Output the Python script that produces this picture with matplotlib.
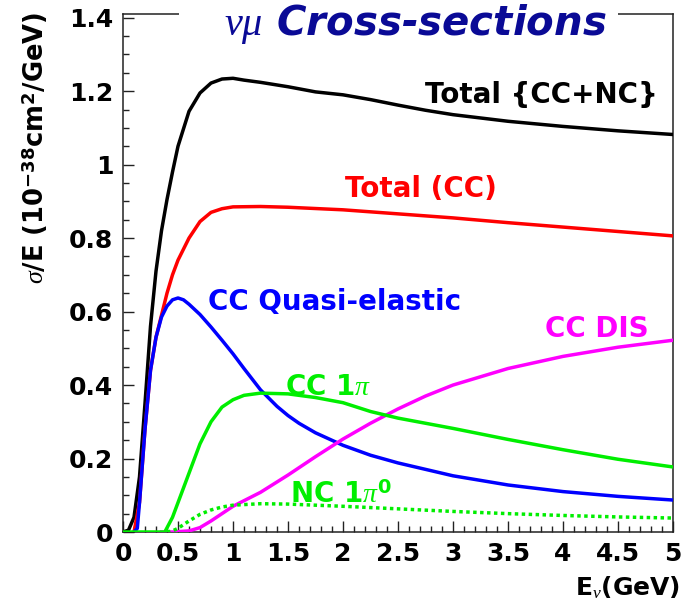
import matplotlib
matplotlib.use("Agg")
import matplotlib.pyplot as plt
from matplotlib.patches import Rectangle

plt.rcParams["font.family"] = ["DejaVu Sans"]
plt.rcParams["mathtext.fontset"] = "custom"
plt.rcParams["mathtext.rm"] = "DejaVu Sans:bold"
plt.rcParams["mathtext.bf"] = "DejaVu Sans:bold"
plt.rcParams["mathtext.sf"] = "DejaVu Sans:bold"
plt.rcParams["mathtext.it"] = "Liberation Serif:italic"

# neutrino energy (GeV) / sigma/E (1e-38 cm^2/GeV)
e_tot = [0, 0.05, 0.1, 0.15, 0.2, 0.25, 0.3, 0.35, 0.4, 0.45, 0.5, 0.6, 0.7,
         0.8, 0.9, 1.0, 1.1, 1.25, 1.5, 1.75, 2.0, 2.25, 2.5, 2.75, 3.0, 3.5,
         4.0, 4.5, 5.0]
s_tot = [0, 0.005, 0.04, 0.15, 0.35, 0.56, 0.71, 0.82, 0.905, 0.98, 1.05,
         1.145, 1.195, 1.222, 1.233, 1.235, 1.23, 1.224, 1.212, 1.198, 1.19,
         1.177, 1.162, 1.148, 1.136, 1.118, 1.104, 1.092, 1.082]

e_cc = [0.1, 0.15, 0.2, 0.25, 0.3, 0.35, 0.4, 0.45, 0.5, 0.6, 0.7, 0.8, 0.9,
        1.0, 1.25, 1.5, 2.0, 2.5, 3.0, 3.5, 4.0, 4.5, 5.0]
s_cc = [0, 0.08, 0.28, 0.44, 0.53, 0.59, 0.65, 0.70, 0.74, 0.80, 0.845,
        0.87, 0.88, 0.885, 0.886, 0.884, 0.877, 0.866, 0.855, 0.842, 0.83,
        0.818, 0.806]

e_qe = [0.1, 0.13, 0.15, 0.2, 0.25, 0.3, 0.35, 0.4, 0.45, 0.5, 0.55, 0.6,
        0.7, 0.8, 0.9, 1.0, 1.1, 1.25, 1.4, 1.5, 1.6, 1.75, 2.0, 2.25, 2.5,
        3.0, 3.5, 4.0, 4.5, 5.0]
s_qe = [0, 0.01, 0.08, 0.28, 0.44, 0.53, 0.585, 0.615, 0.632, 0.637, 0.632,
        0.62, 0.592, 0.558, 0.522, 0.485, 0.445, 0.387, 0.342, 0.317, 0.296,
        0.27, 0.236, 0.209, 0.188, 0.153, 0.128, 0.11, 0.097, 0.087]

e_dis = [0.35, 0.45, 0.6, 0.7, 0.8, 0.9, 1.0, 1.25, 1.5, 1.75, 2.0, 2.25,
         2.5, 2.75, 3.0, 3.5, 4.0, 4.5, 5.0]
s_dis = [0, 0, 0.003, 0.012, 0.03, 0.05, 0.07, 0.108, 0.155, 0.205, 0.253,
         0.296, 0.335, 0.37, 0.4, 0.445, 0.478, 0.503, 0.522]

e_pi = [0, 0.38, 0.45, 0.5, 0.6, 0.7, 0.8, 0.9, 1.0, 1.1, 1.25, 1.5, 1.75,
        2.0, 2.25, 2.5, 2.75, 3.0, 3.5, 4.0, 4.5, 5.0]
s_pi = [0, 0, 0.04, 0.08, 0.16, 0.24, 0.3, 0.34, 0.36, 0.372, 0.378, 0.376,
        0.366, 0.352, 0.328, 0.31, 0.296, 0.282, 0.252, 0.224, 0.198, 0.177]

e_nc = [0.4, 0.45, 0.5, 0.6, 0.7, 0.8, 0.9, 1.0, 1.25, 1.5, 2.0, 2.5, 3.0,
        3.5, 4.0, 4.5, 5.0]
s_nc = [0, 0.003, 0.01, 0.03, 0.048, 0.06, 0.068, 0.073, 0.077, 0.076, 0.07,
        0.063, 0.056, 0.05, 0.045, 0.041, 0.038]

x_ticks = [0, 0.5, 1, 1.5, 2, 2.5, 3, 3.5, 4, 4.5, 5]
x_ticklabels = ["0", "0.5", "1", "1.5", "2", "2.5", "3", "3.5", "4", "4.5", "5"]
y_ticks = [0, 0.2, 0.4, 0.6, 0.8, 1.0, 1.2, 1.4]
y_ticklabels = ["0", "0.2", "0.4", "0.6", "0.8", "1", "1.2", "1.4"]

GREEN = "#00ee00"
LW = 2.5

fig = plt.figure(figsize=(6.85, 6.1), dpi=100)
ax = fig.add_axes([123 / 685, 78 / 610, 550 / 685, 518 / 610])

ax.plot(e_tot, s_tot, color="black", lw=LW, zorder=3)
ax.plot(e_cc, s_cc, color="red", lw=LW, zorder=3)
ax.plot(e_qe, s_qe, color="blue", lw=LW, zorder=3)
ax.plot(e_dis, s_dis, color="magenta", lw=LW, zorder=3)
ax.plot(e_pi, s_pi, color=GREEN, lw=LW, zorder=3)
ax.plot(e_nc, s_nc, color=GREEN, lw=LW, ls=(0, (1, 1)), zorder=3)

ax.set_xlim(0, 5)
ax.set_ylim(0, 1.41)
ax.set_xticks(x_ticks)
ax.set_xticklabels(x_ticklabels)
ax.set_yticks(y_ticks)
ax.set_yticklabels(y_ticklabels)
ax.set_xticks([i * 0.1 for i in range(51)], minor=True)
ax.set_yticks([i * 0.05 for i in range(29)], minor=True)
ax.tick_params(which="both", direction="in", width=1.0, colors="#222222")
ax.tick_params(which="major", length=8)
ax.tick_params(which="minor", length=4)
ax.tick_params(axis="both", labelsize=18, labelcolor="black", pad=7)
for lbl in ax.get_xticklabels() + ax.get_yticklabels():
    lbl.set_fontweight("bold")
for sp in ax.spines.values():
    sp.set_linewidth(1.1)
    sp.set_color("#222222")

# white box of the title, hiding part of the top frame
ax.add_patch(Rectangle((193 / 685 - 123 / 685, 0.97), (632 - 193) / 550, 0.06,
                       transform=ax.transAxes, facecolor="white",
                       edgecolor="none", zorder=10, clip_on=False))
fig.text(415 / 685, 1 - 24 / 610, r"$\nu\mu$ Cross-sections", color="#0a0a96",
         fontsize=29, fontweight="bold", fontstyle="italic",
         ha="center", va="center", zorder=11)

fig.text(35 / 685, 1 - 12 / 610, r"$\sigma$/E (10$^{-38}$cm$^{2}$/GeV)",
         rotation=90, ha="center", va="top", fontsize=18.5, fontweight="bold")
fig.text(680 / 685, 1 - 588 / 610, r"E$_{\nu}$(GeV)", ha="right", va="center",
         fontsize=18, fontweight="bold")

lab = dict(fontsize=20, fontweight="bold", va="baseline")
ax.text(4.864, 1.169, "Total {CC+NC}", color="black", ha="right", **lab)
ax.text(2.018, 0.911, "Total (CC)", color="red", ha="left", **lab)
ax.text(0.773, 0.603, "CC Quasi-elastic", color="blue", ha="left", **lab)
ax.text(3.836, 0.53, "CC DIS", color="magenta", ha="left", **lab)
ax.text(1.473, 0.372, r"CC 1$\pi$", color=GREEN, ha="left", **lab)
ax.text(1.518, 0.079, r"NC 1$\pi^{0}$", color=GREEN, ha="left", **lab)

fig.savefig("out.png", dpi=100, facecolor="white")
